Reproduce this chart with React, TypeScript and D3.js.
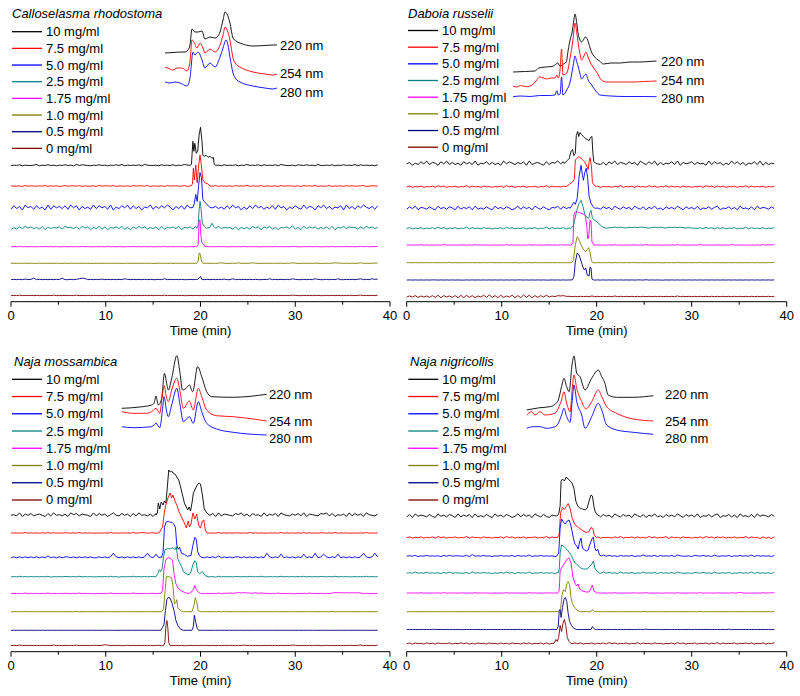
import React from 'react';
import * as d3 from 'd3';

type Pt = [number, number];

const STEP = 0.3; // sampling interval (min) of the baseline noise strings
const concentrations = ['10 mg/ml', '7.5 mg/ml', '5.0 mg/ml', '2.5 mg/ml', '1.75 mg/ml', '1.0 mg/ml', '0.5 mg/ml', '0 mg/ml'];
const traceColors = ['#000000', '#ff0000', '#0000ff', '#008080', '#ff00ff', '#808000', '#000080', '#800000'];
const wavelengths = ['220 nm', '254 nm', '280 nm'];
const insetColors = ['#000000', '#ff0000', '#0000ff'];
const xMajorTicks = [0, 10, 20, 30, 40];
const xMinorTicks = [5, 15, 25, 35];
const species = ['Calloselasma rhodostoma', 'Daboia russelii', 'Naja mossambica', 'Naja nigricollis'];

// ---------- Calloselasma rhodostoma ----------
const crOffsets = [136.4, 115.7, 94.2, 73.4, 55, 38.4, 22.2, 6.2];
const crNoiseAmp = [0.35, 0.3, 0.7, 0.55, 0.2, 0.2, 0.3, 0.25];
const crNoise = [
  '4546354457 3546453546 4537465435 4645354647 3545463754 4536454635 4754364537 4645364546 3547454636 4546375445 3654645374 4546354645 4736454536',
  '5445364544 5463545346 4554635445 3645546354 4536455463 5445364554 4635447354 5463544536 4547354463 5445364554 4536454635 4463545364 5445634554',
  '2736184627 3518274637 2847163528 3746281537 4827361548 2637485163 7284635172 8463527384 6152738462 5372846153 7428365174 8362547183 6274853627',
  '2637485746 3827465738 6647385726 4837265748 3627485736 4728365748 2657384746 3828465637 2646385727 5836265749 3628475736 4738265847 6637485746',
  '4546454544 5464545445 4545464544 5454645454 4546454545 4454645454 5445464545 4546454454 5464545445 4546454546 5445464554 4546455464 5456464556',
  '4545454544 5454545445 4545454544 5454545454 4545454545 4454545454 5445458545 4545754454 7454575445 4545454547 5445454554 4545765454 5457454556',
  '4545464594 5454545494 4545798454 5464545454 7545454545 4454745454 5445454545 4545464474 5454545445 4745454547 5445454754 4545474454 5457454756',
  '4546454545 4545464545 4546454545 5454645454 4545454545 4554645454 5445454545 4545454554 5464545445 4545454546 5445454554 4545454545 5456454546',
];
const crPeaks: Pt[][] = [
  [[18.9, 0], [19.05, 1], [19.1, 10], [19.2, 24], [19.3, 14], [19.4, 22], [19.55, 12], [19.7, 14], [19.85, 30], [20.0, 38], [20.15, 25], [20.25, 10], [20.4, 9], [20.6, 10], [20.8, 8], [21.0, 9], [21.2, 7], [21.35, 8], [21.45, 1], [21.6, 0]],
  [[19.0, 0], [19.15, 2], [19.25, 18], [19.35, 6], [19.5, 21], [19.65, 3], [19.8, 20], [19.95, 31], [20.1, 20], [20.25, 6], [20.5, 3], [20.8, 2], [21.0, 0]],
  [[19.2, 0], [19.35, 4], [19.5, 13], [19.65, 6], [19.8, 22], [19.95, 35], [20.1, 30], [20.25, 8], [20.4, 6], [20.6, 4], [20.8, 2], [21.0, 0]],
  [[19.6, 0], [19.75, 3], [19.85, 18], [19.95, 27], [20.05, 20], [20.2, 5], [20.4, 2], [20.6, 0], [21.0, 1], [21.2, 5], [21.4, 2], [21.6, 0]],
  [[19.6, 0], [19.75, 2], [19.85, 25], [19.95, 27], [20.05, 10], [20.15, 4], [20.35, 2], [20.5, 0]],
  [[19.6, 0], [19.75, 2], [19.85, 10], [19.95, 10], [20.1, 2], [20.25, 0]],
  [[19.7, 0], [19.9, 2], [20.0, 3], [20.15, 0]],
  [],
];
const crInset: Pt[][] = [
  [[16.25, 42], [17.1, 42.5], [18.05, 43], [18.36, 43], [18.68, 45], [18.89, 50], [19.1, 66], [19.42, 63], [19.74, 63], [20.16, 64], [20.47, 56], [21.0, 58], [21.53, 57], [21.85, 59], [22.06, 63], [22.38, 75], [22.59, 83], [22.8, 81], [23.11, 72], [23.43, 57], [23.74, 54], [24.17, 52], [25.54, 49], [26.8, 49.5], [27.65, 50], [28.07, 50]],
  [[16.25, 28], [16.78, 26], [17.1, 25], [17.52, 27], [18.05, 27], [18.57, 24], [18.89, 33], [19.1, 55], [19.31, 53], [19.63, 47], [19.95, 52], [20.26, 47], [20.47, 42], [21.0, 46], [21.53, 43], [22.06, 50], [22.38, 60], [22.59, 68], [22.8, 65], [23.11, 55], [23.43, 37], [23.74, 31], [24.17, 28], [25.54, 23], [26.8, 21], [27.65, 20], [28.07, 21]],
  [[16.25, 13], [16.78, 12], [17.31, 13], [17.84, 12], [18.57, 9], [18.89, 17], [19.21, 43], [19.42, 40], [19.74, 43], [20.16, 35], [20.47, 27], [21.0, 32], [21.53, 28], [22.06, 38], [22.38, 47], [22.69, 55], [22.9, 50], [23.11, 38], [23.43, 22], [23.74, 16], [24.17, 13], [25.54, 9], [26.8, 7], [27.65, 6], [28.07, 7]],
];

// ---------- Daboia russelii ----------
const drOffsets = [138.2, 115, 93.4, 73.4, 56.7, 39, 21.7, 5.2];
const drNoiseAmp = [0.7, 0.4, 0.6, 0.45, 0.25, 0.2, 0.2, 0.35];
const drNoise = [
  '4625374836 5274836352 7463825473 6352847536 4728356427 3658473526 4837265436 2748365374 6285374826 3547382645 7364528374 6253847362 5473826354',
  '4635463546 3746354635 4736453645 3546374635 4635463547 3645463546 3746354635 4536473546 3645374635 4736453645 3546374636 4635463547 3645463546',
  '3748265374 2846375283 6472835374 2846375248 3746285374 2658374628 5374628537 4628537462 8537264835 2746385274 6382547368 2547362845 3728465374',
  '4635463546 3746354635 4736453645 3546374635 4635463547 3645463546 3746354635 5667676576 7677656767 6576767656 5546374636 4635463547 3645463546',
  '4545464545 4546454545 5454645454 4545464545 4546454545 5454645454 4545464545 4546454545 5454645454 4545464545 4546454545 5454645454 4545464556',
  '4545454545 4545464545 4545454545 5454545454 4545454545 4545454545 4545454545 4545454545 5454545454 4545464545 4546454545 4545454545 4545454556',
  '4545454545 5454545454 4545454545 4545454545 5454545454 4545454545 4545454545 4545454545 4554645454 4545454545 4545454545 4545454545 4545454545',
  '3637263627 2817362718 1827163829 2718263817 1928172738 3647675545 4545464545 4546454545 4545454545 4545464545 4545454545 4545454545 4545454545',
];
const drPeaks: Pt[][] = [
  [[16.6, 0], [16.9, 3], [17.1, 5], [17.3, 12], [17.45, 14], [17.6, 8], [17.75, 10], [17.85, 28], [18.0, 32], [18.1, 27], [18.25, 31], [18.4, 29], [18.6, 27], [18.8, 25], [19.0, 24], [19.2, 23], [19.35, 26], [19.5, 27], [19.6, 10], [19.7, 2], [19.9, 0]],
  [[16.8, 0], [17.2, 3], [17.5, 5], [17.65, 8], [17.75, 27], [17.9, 28], [18.1, 30], [18.3, 29], [18.5, 27], [18.7, 25], [18.9, 22], [19.1, 17], [19.2, 25], [19.3, 29], [19.45, 20], [19.55, 4], [19.8, 1], [20.0, 0]],
  [[17.2, 0], [17.4, 3], [17.6, 6], [17.75, 4], [17.95, 10], [18.15, 32], [18.35, 43], [18.5, 33], [18.6, 28], [18.75, 36], [18.9, 40], [19.05, 30], [19.2, 12], [19.4, 5], [19.6, 2], [19.8, 0]],
  [[17.3, 0], [17.55, 3], [17.7, 9], [17.9, 18], [18.1, 24], [18.35, 28], [18.55, 22], [18.75, 14], [18.95, 11], [19.15, 10], [19.3, 16], [19.4, 18], [19.55, 10], [19.8, 8], [20.1, 6], [20.4, 3], [20.7, 1], [21.0, 0]],
  [[17.3, 0], [17.5, 2], [17.6, 30], [17.75, 33], [18.0, 33], [18.3, 32], [18.6, 31], [18.8, 29], [18.95, 20], [19.05, 6], [19.15, 8], [19.3, 25], [19.4, 24], [19.5, 3], [19.7, 0]],
  [[17.3, 0], [17.55, 2], [17.75, 18], [17.95, 26], [18.1, 24], [18.3, 19], [18.55, 14], [18.8, 11], [19.0, 13], [19.15, 15], [19.3, 10], [19.45, 2], [19.6, 0]],
  [[17.4, 0], [17.6, 3], [17.75, 18], [17.95, 27], [18.15, 25], [18.35, 19], [18.55, 13], [18.7, 10], [18.85, 12], [19.0, 5], [19.2, 4], [19.3, 13], [19.4, 12], [19.5, 1], [19.7, 0]],
  [],
];
const drInset: Pt[][] = [
  [[11.2, 28], [12.4, 28.5], [13.5, 29], [13.9, 32], [14.6, 33], [15.3, 33.5], [15.6, 35], [15.9, 37], [16.15, 34], [16.5, 36], [16.8, 38], [17.0, 50], [17.2, 60], [17.4, 67], [17.6, 80], [17.72, 86], [17.9, 77], [18.05, 66], [18.2, 61], [18.4, 58], [18.6, 60], [18.8, 63], [18.95, 62], [19.15, 57], [19.3, 52], [19.5, 47], [19.7, 44], [20.0, 41], [20.3, 39], [20.7, 36], [21.5, 37], [22.5, 37], [23.5, 38], [24.5, 38], [25.5, 38.5], [26.3, 39]],
  [[11.2, 14], [11.6, 13], [12.0, 14.5], [12.6, 13.3], [13.2, 15], [13.7, 20], [14.0, 23], [14.4, 22], [14.7, 21], [15.2, 22], [15.6, 22], [15.8, 25], [15.96, 22], [16.14, 30], [16.3, 51], [16.45, 25], [16.85, 27], [17.2, 42], [17.5, 60], [17.72, 77], [17.96, 63], [18.2, 48], [18.42, 40], [18.65, 44], [18.87, 48], [19.05, 44], [19.3, 38], [19.6, 33], [20.0, 28], [20.5, 20], [21.05, 18], [22.5, 18], [23.85, 18], [25.0, 18.5], [26.3, 19]],
  [[11.2, 3.3], [12.0, 4], [13.0, 3.5], [14.0, 4.5], [15.0, 4.5], [15.6, 5], [15.8, 9.3], [15.96, 5], [16.15, 6], [16.3, 23], [16.45, 5], [16.85, 10], [17.2, 18], [17.5, 33], [17.72, 44], [17.9, 38], [18.07, 33], [18.25, 26], [18.42, 21], [18.65, 24], [18.87, 26], [19.1, 20], [19.47, 15], [19.9, 9], [20.35, 5], [21.5, 4], [23.0, 3.5], [25.0, 3.5], [26.3, 3.3]],
];

// ---------- Naja mossambica ----------
const nmOffsets = [136.7, 118.7, 94.4, 75, 58.2, 40, 21.4, 6.2];
const nmNoiseAmp = [0.6, 0.3, 0.9, 0.3, 0.35, 0.2, 0.12, 0.3];
const nmNoise = [
  '4538264735 6427384536 2857365428 3746258437 4627384536 2748356427 3846275436 4728365437 5836274528 3647285436 4738265437 6837254628 3746285436',
  '4545464545 4546454545 5454645454 4545464545 4546456545 5454645454 4545464545 4546454545 5454645454 4545464545 4546454545 5454645454 4545464545',
  '4545454545 4546454545 5454545454 4545459545 4545454595 4845454545 4545454545 4546454545 5454545454 9545484545 4548454945 8545484545 4545954595',
  '4546454545 4546354545 5454645454 4545464535 4546454545 5454645454 4545464545 4536454545 5454645464 4545464545 4546454545 5454645454 4545464545',
  '4545464545 4546454545 5454645454 4545464545 4546454545 5454645454 4545464545 4546455656 7676657565 5454645454 4545464545 4546777676 7676454545',
  '4545464545 4545454545 4546454545 4545454545 4545454545 4545454545 4545454545 4545464545 4545454545 4545454545 4545454545 4546454545 4545454545',
  '4545454545 4545454545 4545454545 4545454545 4545454545 4545454545 4545454545 4545454545 4545454545 4545454545 4545454545 4545454545 4545454545',
  '4546454545 4545464545 4546454545 5457645454 4545454545 4554645454 5445454545 4545454554 5464545445 4545454546 5445454554 4545454545 5456454546',
];
const nmPeaks: Pt[][] = [
  [[15.3, 0], [15.45, 2], [15.55, 12], [15.7, 6], [15.85, 13], [16.05, 10], [16.2, 14], [16.35, 12], [16.5, 28], [16.65, 45], [16.8, 43], [16.95, 44], [17.1, 42], [17.3, 41], [17.5, 38], [17.7, 35], [17.9, 28], [18.1, 20], [18.3, 12], [18.5, 8], [18.65, 5], [18.8, 8], [18.95, 4], [19.1, 12], [19.25, 22], [19.45, 26], [19.65, 30], [19.85, 32], [20.0, 31], [20.2, 20], [20.4, 6], [20.6, 3], [20.9, 0]],
  [[15.6, 0], [15.8, 3], [16.0, 6], [16.2, 22], [16.4, 30], [16.6, 36], [16.8, 40], [16.95, 35], [17.1, 38], [17.3, 32], [17.5, 28], [17.7, 22], [17.9, 18], [18.1, 14], [18.3, 10], [18.5, 5], [18.7, 12], [18.85, 6], [19.0, 9], [19.2, 20], [19.4, 14], [19.6, 19], [19.8, 8], [20.0, 5], [20.2, 12], [20.35, 13], [20.5, 3], [20.7, 0]],
  [[15.9, 0], [16.05, 5], [16.2, 30], [16.35, 35], [16.6, 36], [16.8, 35], [17.0, 35], [17.2, 33], [17.35, 30], [17.5, 12], [17.65, 8], [17.8, 10], [18.0, 4], [18.3, 3], [18.6, 1], [19.0, 2], [19.2, 12], [19.4, 20], [19.55, 18], [19.7, 6], [19.85, 2], [20.1, 0]],
  [[15.3, 0], [15.5, 3], [15.65, 7], [15.8, 5], [15.95, 8], [16.1, 20], [16.25, 27], [16.5, 28], [16.8, 28], [17.1, 29], [17.3, 27], [17.45, 30], [17.6, 18], [17.8, 14], [18.0, 10], [18.2, 5], [18.5, 3], [18.8, 2], [19.0, 5], [19.2, 12], [19.4, 16], [19.55, 14], [19.7, 5], [19.9, 3], [20.2, 5], [20.5, 1], [20.8, 0]],
  [[15.8, 0], [16.0, 3], [16.15, 25], [16.35, 34], [16.6, 36], [16.85, 35], [17.05, 33], [17.2, 20], [17.4, 10], [17.6, 6], [17.9, 3], [18.3, 1], [18.8, 0], [19.2, 3], [19.4, 8], [19.55, 4], [19.8, 1], [20.0, 0]],
  [[15.9, 0], [16.1, 3], [16.25, 20], [16.4, 35], [16.7, 35], [16.95, 34], [17.1, 25], [17.25, 8], [17.4, 9], [17.5, 12], [17.6, 4], [17.9, 1], [18.2, 0], [19.1, 0], [19.3, 6], [19.45, 14], [19.6, 10], [19.75, 1], [20.0, 0]],
  [[15.8, 0], [16.0, 3], [16.15, 6], [16.3, 20], [16.45, 31], [16.6, 33], [16.8, 32], [17.0, 27], [17.2, 20], [17.4, 10], [17.6, 5], [17.9, 1], [18.2, 0], [19.1, 0], [19.25, 4], [19.35, 15], [19.5, 8], [19.65, 2], [19.8, 0]],
  [[16.1, 0], [16.25, 3], [16.35, 20], [16.45, 25], [16.55, 18], [16.65, 3], [16.8, 0]],
];
const nmInset: Pt[][] = [
  [[11.7, 31.7], [13.6, 33], [14.85, 35], [15.1, 36.7], [15.3, 44], [15.55, 35], [15.9, 41.7], [16.2, 66.7], [16.43, 56.7], [16.6, 50], [16.96, 61.7], [17.5, 84.3], [17.84, 66.7], [18.1, 50], [18.47, 51.7], [18.82, 55], [19.17, 48.3], [19.7, 73.3], [20.13, 63.3], [20.65, 48.3], [21.2, 43.3], [23.46, 42.7], [26.98, 45.7]],
  [[11.7, 28.3], [12.9, 26.7], [14.3, 26.7], [14.85, 28.3], [15.3, 31.7], [15.7, 26.7], [15.97, 45], [16.15, 54.3], [16.43, 41.7], [16.6, 38.3], [16.96, 50], [17.5, 61.7], [17.84, 48.3], [18.19, 31.7], [18.82, 39], [19.24, 30], [19.77, 51.7], [20.13, 43.3], [20.65, 30], [21.7, 24.3], [23.46, 23.3], [26.98, 19]],
  [[11.7, 13.3], [12.9, 12.3], [14.85, 13.3], [15.3, 16.7], [15.7, 12.3], [16.0, 31.7], [16.15, 43.3], [16.43, 28.3], [16.6, 23.3], [16.96, 35], [17.5, 51.7], [17.84, 35], [18.19, 18.3], [18.82, 23.3], [19.24, 16.7], [19.77, 38.3], [20.13, 28.3], [20.65, 16.7], [21.7, 11], [23.46, 7.7], [26.98, 5]],
];

// ---------- Naja nigricollis ----------
const nnOffsets = [135.7, 114.2, 95.7, 78.7, 58.7, 40, 22.2, 8.2];
const nnNoiseAmp = [0.6, 0.4, 0.4, 0.4, 0.25, 0.15, 0.2, 0.35];
const nnNoise = [
  '3728465374 2846375283 6472835374 2846375248 3746285374 2658374628 5374628537 4628537462 8537264835 2746385274 6382547368 2547362845 3728465374',
  '4635463546 3746354635 4736453645 3546374635 4635463547 3645463546 3746354635 4536473546 3645374635 4726453645 3546374636 4635463547 3645263526',
  '4546354645 4536464554 4638454645 3546454636 4547354645 4536454635 4654364537 4645364546 3547454636 4546375445 3654645374 4546354645 4736454536',
  '4547454645 4536474554 4637454645 3546474636 4547354645 4536454635 4654364537 4645374546 3547454636 4546375445 3654645374 4546354645 4736454537',
  '4545464545 4546454545 5454645454 4545464545 4546454545 5454645454 4545464545 4546454545 5454645454 4545464545 4546454545 5454645754 4545464556',
  '4545454545 4545454545 4545454545 4545454545 4545454545 4545454545 4545454545 4545454545 4546454545 4545454545 4546454545 4545454545 4545454546',
  '4545454545 5454545454 4545454545 4545454545 5454545454 4545454545 4545454545 4545454545 4554645454 4545454545 4545454545 4546454545 4545454545',
  '4636453645 3645463546 4635364536 4536453645 3646354636 3547463546 4635463546 3746354635 4736453645 3546374635 4635463547 3645463546 4635463547',
];
const nnPeaks: Pt[][] = [
  [[15.8, 0], [16.0, 2], [16.15, 10], [16.25, 35], [16.4, 37], [16.6, 35], [16.8, 39], [17.0, 37], [17.2, 35], [17.4, 33], [17.6, 28], [17.8, 15], [18.0, 10], [18.2, 8], [18.5, 7], [18.8, 6], [19.0, 8], [19.2, 15], [19.4, 21], [19.55, 20], [19.7, 10], [19.85, 4], [20.1, 1], [20.3, 0]],
  [[15.9, 0], [16.05, 3], [16.2, 25], [16.4, 30], [16.6, 28], [16.8, 31], [17.0, 34], [17.2, 29], [17.4, 20], [17.6, 15], [17.8, 12], [18.1, 10], [18.5, 7], [18.9, 5], [19.2, 6], [19.4, 10], [19.6, 9], [19.75, 2], [20.0, 0]],
  [[15.8, 0], [16.0, 3], [16.15, 28], [16.3, 37], [16.5, 34], [16.7, 32], [16.9, 35], [17.1, 36], [17.3, 30], [17.5, 20], [17.7, 12], [17.9, 10], [18.05, 7], [18.2, 14], [18.35, 18], [18.5, 8], [18.7, 6], [18.9, 5], [19.1, 6], [19.3, 12], [19.5, 17], [19.65, 19], [19.8, 8], [19.95, 5], [20.1, 7], [20.3, 1], [20.5, 0]],
  [[15.9, 0], [16.05, 3], [16.15, 20], [16.3, 28], [16.5, 27], [16.8, 24], [17.0, 22], [17.3, 18], [17.5, 14], [17.7, 10], [17.9, 9], [18.1, 7], [18.3, 5], [18.6, 4], [19.0, 4], [19.3, 7], [19.5, 9], [19.65, 12], [19.8, 5], [20.0, 2], [20.3, 0]],
  [[15.9, 0], [16.05, 2], [16.15, 22], [16.3, 25], [16.5, 28], [16.7, 31], [16.9, 34], [17.1, 35], [17.3, 30], [17.5, 16], [17.7, 10], [17.9, 7], [18.05, 9], [18.2, 4], [18.5, 2], [18.9, 1], [19.2, 1], [19.4, 5], [19.55, 8], [19.7, 2], [20.0, 0]],
  [[16.0, 0], [16.2, 3], [16.35, 17], [16.5, 22], [16.7, 20], [16.85, 28], [17.0, 30], [17.15, 27], [17.3, 14], [17.45, 8], [17.7, 4], [18.0, 1], [18.3, 0], [19.4, 0], [19.55, 2], [19.7, 1], [19.8, 0]],
  [[15.8, 0], [15.95, 3], [16.05, 18], [16.15, 20], [16.25, 12], [16.4, 22], [16.55, 30], [16.7, 32], [16.85, 28], [17.0, 16], [17.15, 8], [17.35, 4], [17.6, 1], [17.9, 0], [19.4, 0], [19.55, 3], [19.7, 1], [19.85, 0]],
  [[15.5, 0], [15.7, 4], [15.85, 2], [16.0, 6], [16.15, 18], [16.3, 12], [16.45, 20], [16.6, 24], [16.75, 18], [16.9, 6], [17.1, 2], [17.3, 0]],
];
const nnInset: Pt[][] = [
  [[12.63, 30], [14.03, 32.3], [15.08, 33.3], [15.6, 35.7], [15.96, 40], [16.3, 53.3], [16.56, 61.7], [16.84, 53.3], [17.1, 48.3], [17.4, 75], [17.61, 84], [17.9, 66.7], [18.24, 63.3], [18.77, 50], [19.47, 61.7], [20.17, 70], [20.53, 63.3], [20.87, 56.7], [21.2, 45], [22.1, 42.7], [23.85, 42.7], [25.96, 44.3]],
  [[12.63, 25], [13.16, 28.3], [13.5, 25], [14.03, 28.3], [14.56, 25], [15.6, 26.7], [15.96, 31.7], [16.3, 40], [16.56, 48.3], [16.84, 36.7], [17.2, 28.3], [17.4, 48.3], [17.61, 65], [17.9, 51.7], [18.42, 38.3], [18.87, 31], [19.47, 38.3], [20.17, 50], [20.53, 43.3], [21.05, 33.3], [22.1, 26.7], [23.85, 21], [25.96, 19]],
  [[12.63, 11.7], [13.33, 13.3], [14.03, 13.3], [14.74, 11.7], [15.6, 13.3], [15.96, 16.7], [16.3, 25], [16.56, 31.7], [16.84, 23.3], [17.2, 17.7], [17.4, 36.7], [17.61, 55], [17.9, 38.3], [18.42, 25], [18.77, 11.7], [19.47, 23.3], [20.17, 36.7], [20.53, 30], [21.05, 15], [22.1, 10], [23.85, 7.7], [25.96, 5.7]],
];

// ---------- layout (positions only) ----------
type Layout = {
  x0: number; x1: number; axisY: number; legendX: number; titleX: number; titleY: number;
  entryY0: number; entryDy: number; insetBase: number; labelX: number; labelYs: number[];
};
const layouts: Layout[] = [
  { x0: 11, x1: 390, axisY: 301.7, legendX: 12, titleX: 12, titleY: 13.5, entryY0: 31.7, entryDy: 16.67, insetBase: 95, labelX: 280, labelYs: [45, 73, 92] },
  { x0: 406.7, x1: 786.7, axisY: 301.7, legendX: 408, titleX: 408, titleY: 13.5, entryY0: 30.5, entryDy: 16.67, insetBase: 100, labelX: 661, labelYs: [61, 80, 98] },
  { x0: 11, x1: 390, axisY: 651.7, legendX: 12, titleX: 14, titleY: 361, entryY0: 379.3, entryDy: 17.24, insetBase: 440, labelX: 269, labelYs: [394, 421, 438] },
  { x0: 406.7, x1: 786.7, axisY: 651.7, legendX: 408.3, titleX: 410, titleY: 361, entryY0: 379.3, entryDy: 17.24, insetBase: 440, labelX: 665, labelYs: [394, 421, 438] },
];

const panelData = [
  { offsets: crOffsets, amps: crNoiseAmp, noise: crNoise, peaks: crPeaks, inset: crInset },
  { offsets: drOffsets, amps: drNoiseAmp, noise: drNoise, peaks: drPeaks, inset: drInset },
  { offsets: nmOffsets, amps: nmNoiseAmp, noise: nmNoise, peaks: nmPeaks, inset: nmInset },
  { offsets: nnOffsets, amps: nnNoiseAmp, noise: nnNoise, peaks: nnPeaks, inset: nnInset },
];

const FONT = '"Liberation Sans", Arial, Helvetica, sans-serif';

function parseNoise(s: string, amp: number): Pt[] {
  return s.replace(/\s/g, '').split('').map((c, i) => [i * STEP, (Number(c) - 4.5) * amp] as Pt);
}

function buildTrace(noise: string, amp: number, peak: Pt[]): Pt[] {
  const base = parseNoise(noise, amp);
  if (!peak.length) return base;
  const t0 = peak[0][0];
  const t1 = peak[peak.length - 1][0];
  return base.filter((p) => p[0] < t0 || p[0] > t1).concat(peak).sort((a, b) => a[0] - b[0]);
}

function Panel({ idx }: { idx: number }) {
  const L = layouts[idx];
  const D = panelData[idx];
  const x = d3.scaleLinear().domain([0, 40]).range([L.x0, L.x1]);
  const y = d3.scaleLinear().domain([0, 300]).range([L.axisY, L.axisY - 300]);
  const yi = d3.scaleLinear().domain([0, 300]).range([L.insetBase, L.insetBase - 300]);

  const traces = D.noise.map((s, i) => buildTrace(s, D.amps[i], D.peaks[i]));

  return (
    <g>
      {traces.map((tr, i) => {
        const line = d3.line<Pt>().x((d) => x(d[0])).y((d) => y(D.offsets[i] + d[1]));
        return <path key={'t' + i} d={line(tr) || ''} fill="none" stroke={traceColors[i]} strokeWidth={0.9} strokeLinejoin="round" />;
      })}
      {D.inset.map((tr, i) => {
        const line = d3.line<Pt>().x((d) => x(d[0])).y((d) => yi(d[1])).curve(d3.curveMonotoneX);
        return <path key={'i' + i} d={line(tr) || ''} fill="none" stroke={insetColors[i]} strokeWidth={0.9} />;
      })}
      {wavelengths.map((w, i) => (
        <text key={'w' + i} x={L.labelX} y={L.labelYs[i]} dominantBaseline="central" fontSize={13} fontFamily={FONT} fill="#000">{w}</text>
      ))}
      <text x={L.titleX} y={L.titleY} dominantBaseline="central" fontSize={13} fontStyle="italic" fontFamily={FONT} fill="#000">{species[idx]}</text>
      {concentrations.map((c, i) => {
        const yy = L.entryY0 + i * L.entryDy;
        return (
          <g key={'l' + i}>
            <line x1={L.legendX} x2={L.legendX + 30} y1={yy} y2={yy} stroke={traceColors[i]} strokeWidth={1.3} />
            <text x={L.legendX + 34} y={yy} dominantBaseline="central" fontSize={13} fontFamily={FONT} fill="#000">{c}</text>
          </g>
        );
      })}
      <line x1={x(0)} x2={x(40)} y1={L.axisY} y2={L.axisY} stroke="#000" strokeWidth={1} />
      {xMajorTicks.map((t) => (
        <g key={'M' + t}>
          <line x1={x(t)} x2={x(t)} y1={L.axisY} y2={L.axisY + 5} stroke="#000" strokeWidth={1} />
          <text x={x(t)} y={L.axisY + 18} textAnchor="middle" fontSize={13} fontFamily={FONT} fill="#000">{t}</text>
        </g>
      ))}
      {xMinorTicks.map((t) => (
        <line key={'m' + t} x1={x(t)} x2={x(t)} y1={L.axisY} y2={L.axisY + 3} stroke="#000" strokeWidth={1} />
      ))}
      <text x={x(20)} y={L.axisY + 33} textAnchor="middle" fontSize={13} fontFamily={FONT} fill="#000">Time (min)</text>
    </g>
  );
}

export default function App() {
  return (
    <svg width={800} height={696} style={{ position: 'absolute', left: 0, top: 0, background: '#fff' }}>
      <rect x={0} y={0} width={800} height={696} fill="#fff" />
      {layouts.map((_, i) => (
        <Panel key={i} idx={i} />
      ))}
    </svg>
  );
}
